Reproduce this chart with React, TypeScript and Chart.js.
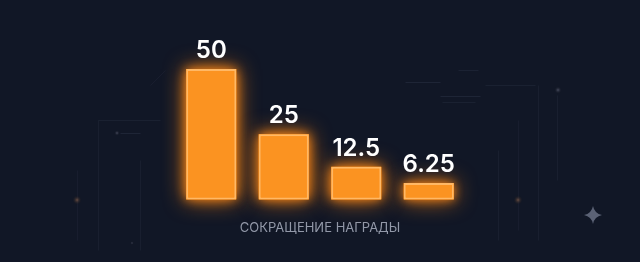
import React, { useEffect, useRef } from "react";
import { Chart, registerables } from "chart.js";

Chart.register(...registerables);

const categories = ["Этап 1", "Этап 2", "Этап 3", "Этап 4"];
const rewardValues = [50, 25, 12.5, 6.25];
const valueLabels = ["50", "25", "12.5", "6.25"];
const axisTitle = "СОКРАЩЕНИЕ НАГРАДЫ";

const BG = "#111726";

const decorPlugin = {
  id: "decor",
  beforeDraw(chart: any) {
    const ctx = chart.ctx;
    ctx.save();
    ctx.fillStyle = BG;
    ctx.fillRect(0, 0, chart.width, chart.height);
    const line = (x1: number, y1: number, x2: number, y2: number, a: number) => {
      ctx.strokeStyle = `rgba(150,165,200,${a})`;
      ctx.lineWidth = 1;
      ctx.beginPath();
      ctx.moveTo(x1 + 0.5, y1 + 0.5);
      ctx.lineTo(x2 + 0.5, y2 + 0.5);
      ctx.stroke();
    };
    const dot = (x: number, y: number, r: number, c: string) => {
      const g = ctx.createRadialGradient(x, y, 0, x, y, r);
      g.addColorStop(0, c);
      g.addColorStop(1, "rgba(0,0,0,0)");
      ctx.fillStyle = g;
      ctx.beginPath();
      ctx.arc(x, y, r, 0, Math.PI * 2);
      ctx.fill();
    };
    line(98, 120, 160, 120, 0.07);
    line(98, 120, 98, 250, 0.06);
    line(140, 160, 140, 250, 0.06);
    line(77, 170, 77, 240, 0.05);
    line(120, 133, 140, 133, 0.1);
    line(150, 85, 165, 70, 0.05);
    line(485, 85, 535, 85, 0.07);
    line(538, 85, 538, 240, 0.06);
    line(498, 150, 498, 240, 0.06);
    line(518, 120, 518, 230, 0.05);
    line(557, 95, 557, 180, 0.06);
    line(405, 82, 440, 82, 0.1);
    line(440, 96, 480, 96, 0.1);
    line(442, 102, 475, 102, 0.07);
    line(458, 70, 478, 70, 0.08);
    dot(77, 200, 5, "rgba(255,170,110,0.35)");
    dot(518, 200, 5, "rgba(255,170,110,0.35)");
    dot(558, 90, 4, "rgba(200,200,230,0.3)");
    dot(117, 133, 3, "rgba(200,200,230,0.3)");
    dot(132, 243, 2, "rgba(200,200,230,0.25)");
    const sx = 593, sy = 215, s = 9;
    ctx.fillStyle = "#5b6275";
    ctx.beginPath();
    ctx.moveTo(sx, sy - s);
    ctx.quadraticCurveTo(sx + 1.5, sy - 1.5, sx + s, sy);
    ctx.quadraticCurveTo(sx + 1.5, sy + 1.5, sx, sy + s);
    ctx.quadraticCurveTo(sx - 1.5, sy + 1.5, sx - s, sy);
    ctx.quadraticCurveTo(sx - 1.5, sy - 1.5, sx, sy - s);
    ctx.fill();
    ctx.restore();
  },
};

// draws an orange halo behind each bar, using the bar elements' own geometry
const glowPlugin = {
  id: "glow",
  beforeDatasetsDraw(chart: any) {
    const ctx = chart.ctx;
    const meta = chart.getDatasetMeta(0);
    ctx.save();
    meta.data.forEach((bar: any) => {
      const { x, y, base, width } = bar.getProps(["x", "y", "base", "width"], true);
      const left = x - width / 2;
      const top = Math.min(y, base);
      const h = Math.abs(base - y);
      for (let pass = 0; pass < 2; pass++) {
        ctx.shadowColor = "rgba(255,135,20,0.9)";
        ctx.shadowBlur = pass === 0 ? 22 : 10;
        ctx.fillStyle = "#fb9321";
        ctx.fillRect(left, top, width, h);
      }
    });
    ctx.restore();
  },
};

const labelPlugin = {
  id: "valueLabels",
  afterDraw(chart: any) {
    const ctx = chart.ctx;
    const meta = chart.getDatasetMeta(0);
    ctx.save();
    ctx.fillStyle = "#ffffff";
    ctx.font = "600 24px Inter, 'Open Sans', sans-serif";
    ctx.textAlign = "center";
    ctx.textBaseline = "alphabetic";
    meta.data.forEach((bar: any, i: number) => {
      ctx.fillText(valueLabels[i], bar.x, bar.y - 11);
    });
    ctx.restore();
  },
};

export default function App() {
  const ref = useRef<HTMLCanvasElement | null>(null);
  useEffect(() => {
    if (!ref.current) return;
    const chart = new Chart(ref.current, {
      type: "bar",
      data: {
        labels: categories,
        datasets: [
          {
            data: rewardValues,
            backgroundColor: "#fb9321",
            borderColor: "#ffb865",
            borderWidth: 2,
            borderSkipped: false,
            barPercentage: 0.69,
            categoryPercentage: 1,
            clip: false as any,
          },
        ],
      },
      options: {
        animation: false,
        responsive: false,
        maintainAspectRatio: false,
        layout: { padding: { left: 175, right: 175, top: 69, bottom: 26 } },
        plugins: { legend: { display: false }, tooltip: { enabled: false } },
        scales: {
          y: { display: false, min: 0, max: 50 },
          x: {
            grid: { display: false },
            border: { display: false },
            ticks: { display: false },
            title: {
              display: true,
              text: axisTitle,
              color: "#9298a8",
              font: { family: "Inter, 'Open Sans', sans-serif", size: 13, weight: "400" as any },
              padding: { top: 13, bottom: 0 },
            },
          },
        },
      },
      plugins: [decorPlugin, glowPlugin, labelPlugin],
    });
    return () => chart.destroy();
  }, []);
  return (
    <div style={{ position: "fixed", left: 0, top: 0, width: 640, height: 262, background: BG }}>
      <canvas ref={ref} width={640} height={262} style={{ display: "block" }} />
    </div>
  );
}
